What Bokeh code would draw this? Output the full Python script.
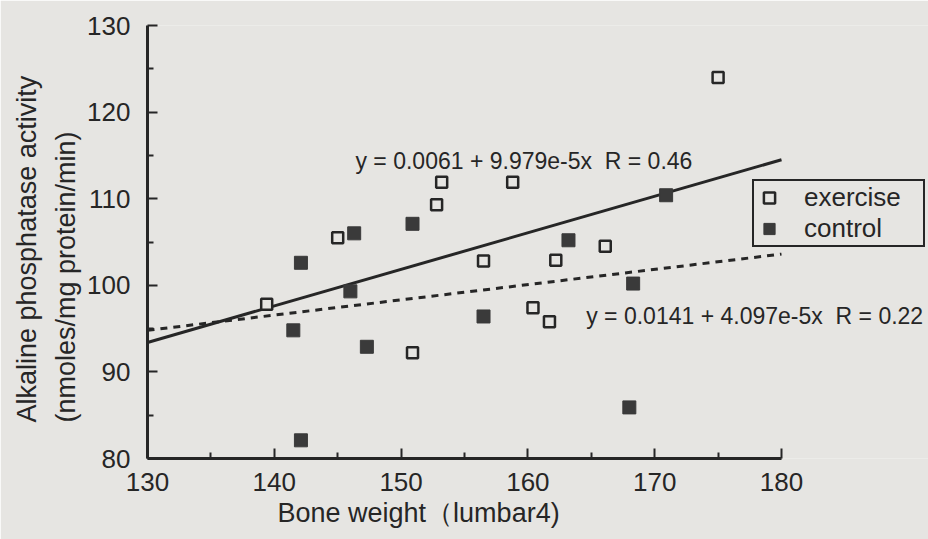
import math
from bokeh.plotting import figure
from bokeh.models import FixedTicker, Label, Range1d, Legend, LegendItem, Title
from bokeh.embed import file_html
from bokeh.resources import INLINE

# ---- data ----
exercise_x = [139.4, 145.0, 150.9, 152.8, 153.2, 156.5, 158.8, 160.4, 161.7, 162.2, 166.1, 175.0]
exercise_y = [97.8, 105.5, 92.2, 109.3, 111.9, 102.8, 111.9, 97.4, 95.8, 102.9, 104.5, 124.0]
control_x = [141.5, 142.1, 142.1, 146.0, 146.3, 147.3, 150.9, 156.5, 163.2, 168.0, 168.3, 170.9]
control_y = [94.8, 102.6, 82.1, 99.3, 106.0, 92.9, 107.1, 96.4, 105.2, 85.9, 100.2, 110.4]
fit_x = [130, 180]
fit_solid_y = [93.4, 114.5]
fit_dotted_y = [94.8, 103.6]
x_ticks = [130, 140, 150, 160, 170, 180]
x_minor = [135, 145, 155, 165, 175]
y_ticks = [80, 90, 100, 110, 120, 130]
y_minor = [85, 95, 105, 115, 125]
GAP = " \u00a0"
eq_solid = "y = 0.0061 + 9.979e-5x" + GAP + "R = 0.46"
eq_dotted = "y = 0.0141 + 4.097e-5x" + GAP + "R = 0.22"
x_title = "Bone weight（lumbar4)"
y_title_1 = "Alkaline phosphatase activity"
y_title_2 = "(nmoles/mg protein/min)"

INK = "#262626"
BG = "#e6e5e2"
FONT = "Liberation Sans"

# frame: x 130..180 spans 634 px; frame extends to the right edge of the page
px_per_x = 634 / 50
x_end = 130 + (928 - 147) / px_per_x

p = figure(width=928, height=539, output_backend="svg", toolbar_location=None,
           x_range=Range1d(130, x_end), y_range=Range1d(80, 130),
           min_border_left=147, min_border_right=0, min_border_top=25, min_border_bottom=81)
p.background_fill_color = BG
p.border_fill_color = BG
p.outline_line_color = None
p.xgrid.visible = False
p.ygrid.visible = False

for ax, tk, mn in ((p.xaxis[0], x_ticks, x_minor), (p.yaxis[0], y_ticks, y_minor)):
    ax.ticker = FixedTicker(ticks=tk, minor_ticks=mn)
    ax.axis_line_width = 3
    ax.axis_line_color = INK
    ax.major_tick_line_color = INK
    ax.minor_tick_line_color = INK
    ax.major_tick_line_width = 2
    ax.minor_tick_line_width = 2
    ax.major_tick_in = 10
    ax.major_tick_out = 0
    ax.minor_tick_in = 6
    ax.minor_tick_out = 0
    ax.major_label_text_font = FONT
    ax.major_label_text_font_size = "26px"
    ax.major_label_text_color = INK
p.xaxis.bounds = (130, 180)
p.xaxis.major_label_standoff = 14
p.yaxis.major_label_standoff = 17

# regression lines
p.line(fit_x, fit_solid_y, line_color=INK, line_width=3)
p.line(fit_x, fit_dotted_y, line_color=INK, line_width=3, line_dash="7 6")

ex = p.scatter(exercise_x, exercise_y, marker="square", size=11, fill_color=BG,
               line_color=INK, line_width=2.5)
ct = p.scatter(control_x, control_y, marker="square", size=13, fill_color="#3a3a3a",
               line_color="#3a3a3a", line_width=1)

legend = Legend(items=[LegendItem(label="exercise", renderers=[ex]),
                       LegendItem(label="control", renderers=[ct])],
                location=(605, 211))
legend.label_text_font = FONT
legend.label_text_font_size = "26px"
legend.label_text_color = INK
legend.border_line_color = INK
legend.border_line_alpha = 1
legend.border_line_width = 2
legend.background_fill_color = BG
legend.background_fill_alpha = 1
legend.padding = 1
legend.spacing = 0
legend.margin = 0
legend.label_height = 29
legend.label_width = 118
legend.glyph_height = 29
legend.glyph_width = 28
legend.label_standoff = 21
p.add_layout(legend, "center")

# equations
p.add_layout(Label(x=146.4, y=114.4, text=eq_solid, text_font=FONT, text_font_size="23px",
                   text_color=INK, text_baseline="middle", text_align="left"))
p.add_layout(Label(x=164.6, y=96.5, text=eq_dotted, text_font=FONT, text_font_size="23px",
                   text_color=INK, text_baseline="middle", text_align="left"))

# axis titles
p.add_layout(Title(text=x_title, align="left", offset=130, standoff=5,
                   text_font=FONT, text_font_size="27px", text_font_style="normal",
                   text_color=INK), "below")
p.add_layout(Title(text=y_title_2, align="left", offset=36, standoff=7,
                   text_font=FONT, text_font_size="27px", text_font_style="normal",
                   text_color=INK), "left")
p.add_layout(Title(text=y_title_1, align="left", offset=36, standoff=8,
                   text_font=FONT, text_font_size="27px", text_font_style="normal",
                   text_color=INK), "left")

open("out.html", "w").write(file_html(p, INLINE))
